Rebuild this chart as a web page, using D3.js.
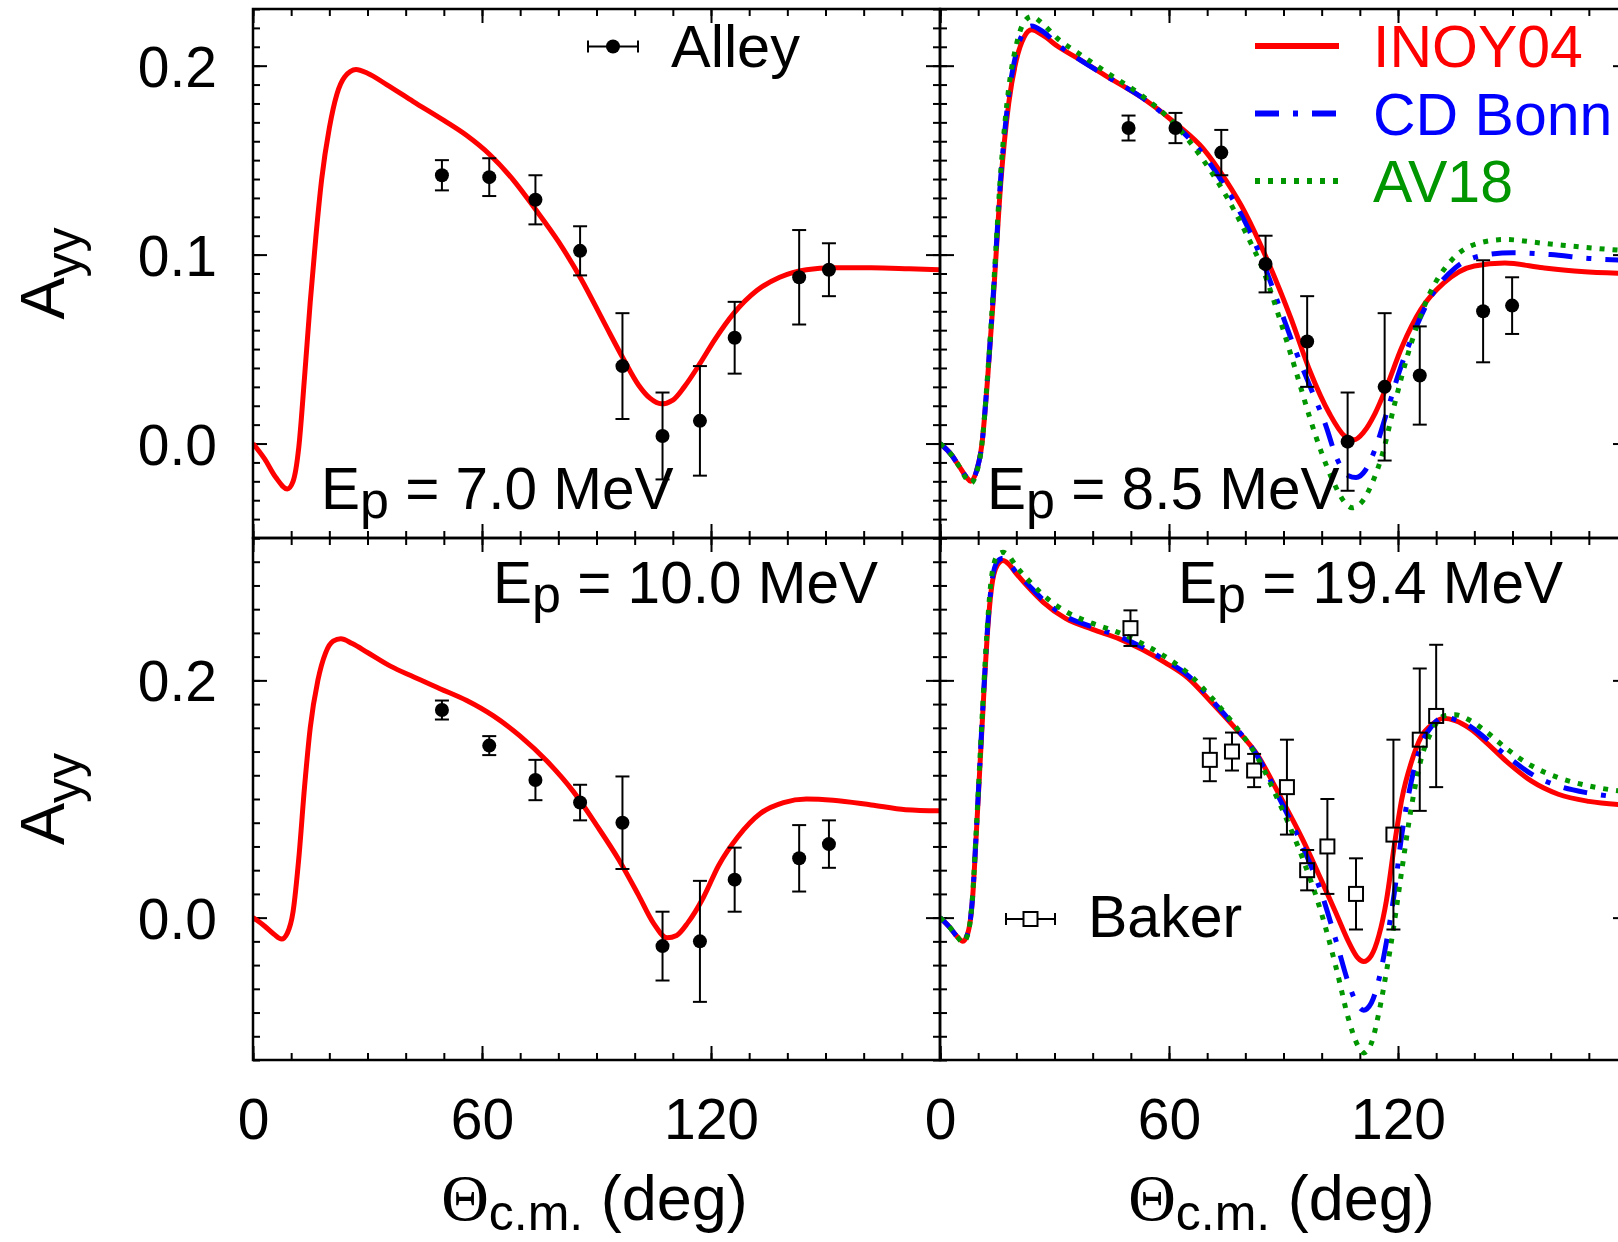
<!DOCTYPE html>
<html><head><meta charset="utf-8">
<script src="https://cdn.jsdelivr.net/npm/d3@7"></script>
<style>
body{margin:0;background:#fff}
svg text{font-family:"Liberation Sans",Arial,Helvetica,sans-serif;fill:#000}
</style>
</head><body>
<svg id="c" width="1618" height="1242"></svg>
<script>
// ---------- data ----------
const thetaMajor = [0, 60, 120, 180];
const thetaLabels = [0, 60, 120];
const thetaMinor = d3.range(0, 181, 10);
const yTopMajor = [0, 0.1, 0.2];
const yTopMinor = d3.range(-5, 24).map(i => i / 100);
const yBotMajor = [0, 0.2];
const yBotMinor = d3.range(-6, 17).map(i => i / 50);

const seriesNames = ["INOY04", "CD Bonn", "AV18"];
const panelLabels = ["7.0", "8.5", "10.0", "19.4"];

// data: [theta, Ayy, error]
const alley7 = [[49.5,0.142,0.008],[61.9,0.141,0.010],[74.0,0.129,0.013],[85.7,0.102,0.013],[96.8,0.041,0.028],[107.3,0.004,0.023],[117.1,0.012,0.029],[126.2,0.056,0.019],[143.1,0.088,0.025],[150.9,0.092,0.014]];
const alley85 = [[49.4,0.167,0.0066],[61.7,0.167,0.008],[73.7,0.154,0.012],[85.3,0.095,0.015],[96.2,0.054,0.024],[106.8,0.001,0.026],[116.5,0.030,0.039],[125.7,0.036,0.026],[142.3,0.070,0.027],[149.9,0.073,0.015]];
const alley10 = [[49.5,0.175,0.008],[61.9,0.145,0.008],[74.0,0.116,0.017],[85.7,0.097,0.015],[96.8,0.080,0.039],[107.3,-0.024,0.029],[117.1,-0.020,0.051],[126.2,0.032,0.027],[143.1,0.050,0.028],[150.9,0.062,0.020]];
const baker19 = [[49.9,0.244,0.015],[70.7,0.133,0.018],[76.5,0.140,0.016],[82.3,0.124,0.014],[90.9,0.110,0.040],[96.2,0.040,0.017],[101.5,0.060,0.040],[109.0,0.020,0.030],[118.8,0.070,0.080],[125.7,0.150,0.060],[130.0,0.170,0.060]];

// curves: [theta, Ayy]
const inoy7 = [[0,0],[3,-0.008],[6,-0.018],[9,-0.024],[10.5,-0.020],[12,-0.002],[13.5,0.035],[15,0.075],[16.5,0.110],[18,0.140],[20,0.167],[22,0.185],[24,0.194],[27,0.198],[30,0.196],[35,0.190],[42,0.181],[50,0.171],[56,0.163],[62,0.153],[68,0.140],[74,0.124],[80,0.107],[86,0.087],[92,0.064],[97,0.045],[101,0.031],[104,0.024],[107,0.021],[110,0.023],[113,0.030],[117,0.042],[121,0.055],[126,0.069],[132,0.081],[138,0.088],[145,0.092],[152,0.093],[162,0.093],[172,0.0925],[180,0.092]];

const inoy85 = [[0,0],[3,-0.006],[5,-0.012],[7,-0.018],[8,-0.020],[9.5,-0.015],[11,0.000],[12.5,0.035],[14,0.078],[16,0.140],[18,0.180],[20,0.203],[22,0.215],[24,0.219],[27,0.216],[31,0.210],[36,0.204],[44,0.194],[53,0.183],[62,0.169],[69,0.156],[75,0.139],[80,0.122],[86,0.096],[92,0.066],[97,0.038],[102,0.016],[106,0.004],[108.5,0.002],[111,0.006],[114,0.016],[117,0.030],[121,0.051],[126,0.071],[132,0.085],[140,0.094],[148,0.0955],[158,0.093],[168,0.091],[180,0.090]];
const cdb85 = [[0,0],[3,-0.006],[5,-0.012],[7,-0.018],[8,-0.020],[9.5,-0.015],[11,0.000],[12.5,0.036],[14,0.080],[16,0.143],[18,0.184],[20,0.207],[22,0.218],[24,0.221],[27,0.218],[31,0.211],[36,0.204],[44,0.194],[53,0.183],[62,0.168],[69,0.153],[75,0.135],[80,0.117],[85,0.094],[89,0.072],[93,0.050],[97,0.030],[101,0.010],[104,-0.008],[107,-0.017],[109,-0.018],[111.5,-0.014],[114,-0.003],[117,0.016],[120,0.036],[124,0.058],[129,0.079],[135,0.093],[142,0.0995],[150,0.101],[160,0.100],[170,0.098],[180,0.097]];
const av85 = [[0,0],[3,-0.006],[5,-0.012],[7,-0.019],[8,-0.021],[9.5,-0.016],[11,0.000],[12.5,0.037],[14,0.082],[16,0.146],[18,0.188],[20,0.211],[22,0.223],[24,0.226],[27,0.222],[31,0.214],[36,0.207],[44,0.196],[53,0.184],[62,0.168],[69,0.150],[75,0.131],[80,0.112],[85,0.090],[89,0.066],[93,0.040],[97,0.013],[100,-0.005],[103,-0.020],[106,-0.031],[108,-0.034],[110.5,-0.031],[113,-0.022],[116,-0.005],[119,0.020],[123,0.050],[128,0.078],[134,0.097],[141,0.106],[148,0.108],[158,0.106],[168,0.104],[180,0.102]];

const inoy10 = [[0,0],[3,-0.007],[5.5,-0.014],[7.5,-0.018],[9,-0.013],[10.5,0.005],[12,0.050],[13.5,0.110],[15,0.160],[17,0.200],[19,0.223],[21,0.233],[23,0.235],[26,0.231],[30,0.2235],[36,0.212],[42,0.203],[49,0.193],[56,0.183],[63,0.170],[70,0.153],[77,0.132],[84,0.106],[90,0.078],[96,0.048],[101,0.019],[105,-0.005],[108.5,-0.017],[111,-0.015],[114,-0.004],[118,0.017],[122,0.044],[127,0.068],[133,0.088],[139,0.097],[145,0.100],[152,0.099],[162,0.095],[171,0.091],[180,0.090]];

const inoy19 = [[0,0],[2.5,-0.008],[4.5,-0.016],[6,-0.020],[7.3,-0.013],[8.5,0.015],[9.5,0.070],[10.5,0.130],[11.5,0.190],[12.5,0.243],[13.5,0.278],[15,0.297],[16.5,0.301],[18,0.298],[20,0.290],[23,0.279],[27,0.266],[33,0.252],[40,0.243],[47,0.235],[53,0.226],[59,0.215],[65,0.202],[71,0.182],[77,0.161],[83,0.138],[89,0.103],[95,0.066],[100,0.031],[104,0.002],[107,-0.020],[109.5,-0.034],[111,-0.037],[113,-0.032],[115,-0.015],[117,0.015],[119,0.060],[121,0.100],[123.5,0.131],[126,0.152],[129,0.163],[132,0.168],[135,0.166],[139,0.159],[143,0.148],[149,0.130],[155,0.115],[162,0.104],[170,0.098],[180,0.095]];
const cdb19 = [[0,0],[2.5,-0.008],[4.5,-0.016],[6,-0.020],[7.3,-0.013],[8.5,0.016],[9.5,0.072],[10.5,0.133],[11.5,0.193],[12.5,0.246],[13.5,0.281],[15,0.300],[16.5,0.303],[18,0.299],[20,0.291],[23,0.281],[27,0.268],[33,0.254],[40,0.245],[47,0.237],[53,0.228],[59,0.217],[65,0.204],[71,0.184],[77,0.162],[83,0.137],[89,0.100],[95,0.060],[100,0.020],[104,-0.022],[107,-0.055],[109.5,-0.074],[111,-0.078],[113,-0.072],[115,-0.052],[117,-0.020],[119,0.020],[121,0.070],[123.5,0.115],[126,0.145],[129,0.162],[132,0.169],[135,0.167],[139,0.161],[143,0.151],[149,0.135],[155,0.121],[162,0.111],[170,0.105],[180,0.101]];
const av19 = [[0,0],[2.5,-0.008],[4.5,-0.016],[6,-0.021],[7.3,-0.014],[8.5,0.017],[9.5,0.074],[10.5,0.136],[11.5,0.197],[12.5,0.250],[13.5,0.287],[15,0.305],[16.5,0.308],[18,0.305],[20,0.296],[23,0.285],[27,0.272],[33,0.258],[40,0.248],[47,0.240],[53,0.231],[59,0.220],[65,0.206],[71,0.186],[77,0.163],[83,0.136],[89,0.096],[95,0.050],[100,0.003],[104,-0.045],[107,-0.085],[109.5,-0.108],[111,-0.114],[113,-0.106],[115,-0.080],[117,-0.045],[119,-0.005],[121,0.040],[123.5,0.093],[126,0.133],[129,0.158],[132,0.170],[135,0.171],[139,0.166],[143,0.157],[149,0.141],[155,0.128],[162,0.118],[170,0.111],[180,0.106]];

// ---------- layout ----------
const RED = "#ff0000", BLUE = "#0000ff", GREEN = "#009600";
const styles = {
  INOY04: {color: RED, dash: null},
  "CD Bonn": {color: BLUE, dash: "24,14,5,14"},
  AV18: {color: GREEN, dash: "5,8"}
};
const xL = d3.scaleLinear().domain([0, 180]).range([253, 940]);
const xR = d3.scaleLinear().domain([0, 180]).range([940, 1627]);
const yT = d3.scaleLinear().domain([-0.05, 0.23]).range([538, 9]);
const yB = d3.scaleLinear().domain([-0.12, 0.32]).range([1060, 538]);

const panels = [
  {id: "p0", x: xL, y: yT, yMajor: yTopMajor, yMinor: yTopMinor, curves: [["INOY04", inoy7]], pts: alley7, sym: "dot",
   label: panelLabels[0], lx: 321, ly: 509, yLabels: true, xLabels: false},
  {id: "p1", x: xR, y: yT, yMajor: yTopMajor, yMinor: yTopMinor, curves: [["INOY04", inoy85], ["CD Bonn", cdb85], ["AV18", av85]], pts: alley85, sym: "dot",
   label: panelLabels[1], lx: 987, ly: 509, yLabels: false, xLabels: false},
  {id: "p2", x: xL, y: yB, yMajor: yBotMajor, yMinor: yBotMinor, curves: [["INOY04", inoy10]], pts: alley10, sym: "dot",
   label: panelLabels[2], lx: 493, ly: 603, yLabels: true, xLabels: true},
  {id: "p3", x: xR, y: yB, yMajor: yBotMajor, yMinor: yBotMinor, curves: [["INOY04", inoy19], ["CD Bonn", cdb19], ["AV18", av19]], pts: baker19, sym: "square",
   label: panelLabels[3], lx: 1178, ly: 603, yLabels: false, xLabels: true}
];

const svg = d3.select("#c");
const defs = svg.append("defs");
const FS = 57;

function styleAxis(g) {
  g.select(".domain").remove();
  g.selectAll(".tick line").attr("stroke", "#000").attr("stroke-width", 2);
  g.selectAll(".tick text").attr("font-size", FS).attr("font-family", "Liberation Sans, Arial, sans-serif").attr("fill", "#000");
  g.attr("font-family", null).attr("font-size", null);
}

panels.forEach(p => {
  const [l, r] = p.x.range();
  const [b, t] = p.y.range();
  const g = svg.append("g");

  defs.append("clipPath").attr("id", "clip" + p.id)
    .append("rect").attr("x", l).attr("y", t).attr("width", r - l).attr("height", b - t);

  // ticks on four sides, inward
  const sides = [
    [d3.axisBottom, p.x, `translate(0,${b})`, thetaMinor, thetaMajor],
    [d3.axisTop, p.x, `translate(0,${t})`, thetaMinor, thetaMajor],
    [d3.axisLeft, p.y, `translate(${l},0)`, p.yMinor, p.yMajor],
    [d3.axisRight, p.y, `translate(${r},0)`, p.yMinor, p.yMajor]
  ];
  sides.forEach(([fn, sc, tr, minor, major]) => {
    g.append("g").attr("transform", tr)
      .call(fn(sc).tickValues(minor).tickSize(-7).tickFormat(""))
      .call(styleAxis);
    g.append("g").attr("transform", tr)
      .call(fn(sc).tickValues(major).tickSize(-14).tickFormat(""))
      .call(styleAxis);
  });
  if (p.yLabels) {
    g.append("g").attr("transform", `translate(${l},0)`)
      .call(d3.axisLeft(p.y).tickValues(p.yMajor).tickSize(0).tickPadding(36).tickFormat(d3.format(".1f")))
      .call(styleAxis)
      .selectAll(".tick text").attr("dy", "0.36em");
  }
  if (p.xLabels) {
    g.append("g").attr("transform", `translate(0,${b})`)
      .call(d3.axisBottom(p.x).tickValues(thetaLabels).tickSize(0).tickPadding(39).tickFormat(d3.format("d")))
      .call(styleAxis);
  }

  // curves
  const cg = g.append("g").attr("clip-path", `url(#clip${p.id})`);
  const line = d3.line().x(d => p.x(d[0])).y(d => p.y(d[1])).curve(d3.curveMonotoneX);
  p.curves.forEach(([name, data]) => {
    const st = styles[name];
    cg.append("path").datum(data).attr("d", line)
      .attr("fill", "none").attr("stroke", st.color).attr("stroke-width", 5)
      .attr("stroke-dasharray", st.dash).attr("stroke-linejoin", "round");
  });

  // data points with error bars
  const pg = g.append("g");
  const H = 7, CAP = 7;
  const pt = pg.selectAll("g.pt").data(p.pts).join("g").attr("class", "pt");
  pt.each(function(d) {
    const s = d3.select(this);
    const cx = p.x(d[0]), cy = p.y(d[1]), y1 = p.y(d[1] + d[2]), y2 = p.y(d[1] - d[2]);
    const ln = (a, b2, c, e) => s.append("line").attr("x1", a).attr("y1", b2).attr("x2", c).attr("y2", e).attr("stroke", "#000").attr("stroke-width", 2);
    if (p.sym === "dot") {
      ln(cx, y1, cx, y2);
    } else {
      if (y1 < cy - H) ln(cx, y1, cx, cy - H);
      if (y2 > cy + H) ln(cx, cy + H, cx, y2);
    }
    ln(cx - CAP, y1, cx + CAP, y1);
    ln(cx - CAP, y2, cx + CAP, y2);
    if (p.sym === "dot") {
      s.append("circle").attr("cx", cx).attr("cy", cy).attr("r", 7).attr("fill", "#000");
    } else {
      s.append("rect").attr("x", cx - H).attr("y", cy - H).attr("width", 2 * H).attr("height", 2 * H)
        .attr("fill", "none").attr("stroke", "#000").attr("stroke-width", 2);
    }
  });

  // frame
  g.append("rect").attr("x", l).attr("y", t).attr("width", r - l).attr("height", b - t)
    .attr("fill", "none").attr("stroke", "#000").attr("stroke-width", 2.5);

  // energy label
  const tx = g.append("text").attr("x", p.lx).attr("y", p.ly).attr("font-size", 58.5);
  tx.append("tspan").text("E");
  tx.append("tspan").attr("font-size", 52).attr("dy", 9).text("p");
  tx.append("tspan").attr("dy", -9).text(` = ${p.label} MeV`);
});

// axis titles
[yT, yB].forEach(sc => {
  const [b, t] = sc.range();
  const cy = (b + t) / 2;
  const tt = svg.append("text").attr("transform", `translate(64,${cy}) rotate(-90)`)
    .attr("text-anchor", "middle").attr("font-size", 63);
  tt.append("tspan").text("A");
  tt.append("tspan").attr("font-size", 50).attr("dy", 17).text("yy");
});
[xL, xR].forEach(sc => {
  const [l, r] = sc.range();
  const cx = (l + r) / 2 - 2;
  const tt = svg.append("text").attr("x", cx).attr("y", 1220).attr("text-anchor", "middle").attr("font-size", 63);
  tt.append("tspan").attr("font-family", "Liberation Serif, Times New Roman, serif").attr("font-size", 66).text("Θ");
  tt.append("tspan").attr("font-size", 50).attr("dy", 10).text("c.m.");
  tt.append("tspan").attr("dy", -10).text(" (deg)");
});

// legends
const lg = svg.append("g");
function errSym(g, x1, x2, y, sym) {
  const cx = (x1 + x2) / 2;
  const ln = (a, b, c, e) => g.append("line").attr("x1", a).attr("y1", b).attr("x2", c).attr("y2", e).attr("stroke", "#000").attr("stroke-width", 2);
  if (sym === "dot") {
    ln(x1, y, x2, y);
    g.append("circle").attr("cx", cx).attr("cy", y).attr("r", 7).attr("fill", "#000");
  } else {
    ln(x1, y, cx - 7, y); ln(cx + 7, y, x2, y);
    g.append("rect").attr("x", cx - 7).attr("y", y - 7).attr("width", 14).attr("height", 14)
      .attr("fill", "none").attr("stroke", "#000").attr("stroke-width", 2);
  }
  ln(x1, y - 6, x1, y + 6); ln(x2, y - 6, x2, y + 6);
}
errSym(lg, 588, 638, 46.5, "dot");
lg.append("text").attr("x", 671).attr("y", 67).attr("font-size", 59.5).text("Alley");
errSym(lg, 1006, 1055, 919, "square");
lg.append("text").attr("x", 1088).attr("y", 937).attr("font-size", 59).text("Baker");

seriesNames.forEach((name, i) => {
  const st = styles[name];
  const y = 46 + i * 67.5;
  lg.append("line").attr("x1", 1255).attr("x2", 1339).attr("y1", y).attr("y2", y)
    .attr("stroke", st.color).attr("stroke-width", 6).attr("stroke-dasharray", st.dash);
  lg.append("text").attr("x", 1373).attr("y", y + 21).attr("font-size", 59)
    .style("fill", st.color).text(name);
});
</script>
</body></html>
